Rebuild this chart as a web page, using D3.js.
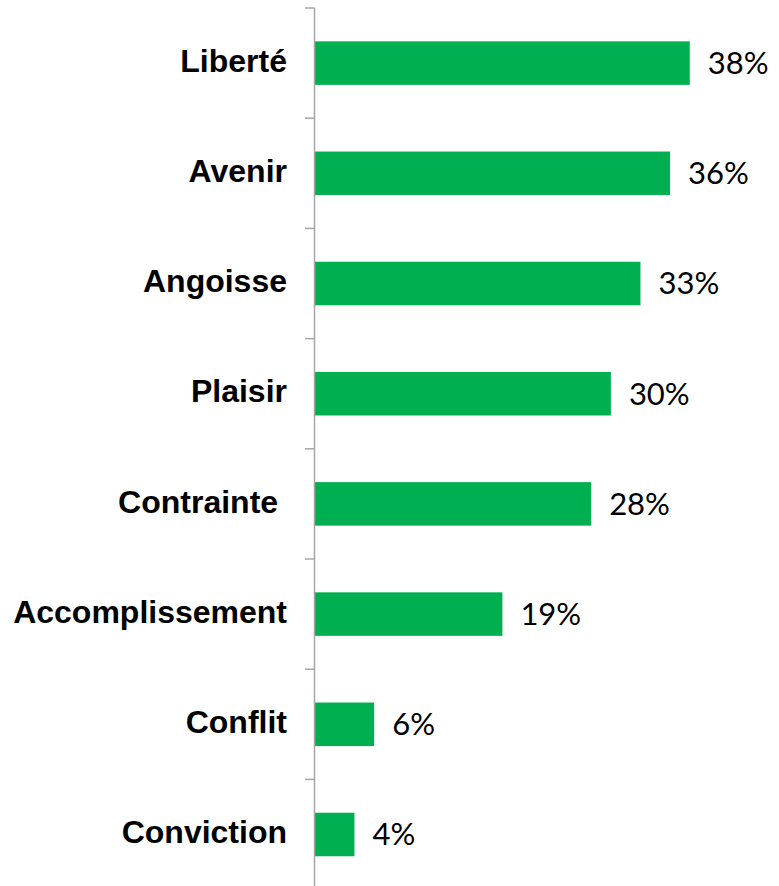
<!DOCTYPE html>
<html>
<head>
<meta charset="utf-8">
<script src="https://cdn.jsdelivr.net/npm/d3@7"></script>
<style>
html, body { margin: 0; padding: 0; background: #fff; }
svg { display: block; }
</style>
</head>
<body>
<svg id="chart" width="779" height="886"></svg>
<script>
const categories = ["Liberté", "Avenir", "Angoisse", "Plaisir", "Contrainte ", "Accomplissement", "Conflit", "Conviction"];
const values = [38, 36, 33, 30, 28, 19, 6, 4];
const valueLabels = ["38%", "36%", "33%", "30%", "28%", "19%", "6%", "4%"];

const svg = d3.select("#chart");
const data = categories.map((c, i) => ({ cat: c, val: values[i], label: valueLabels[i] }));

const x = d3.scaleLinear().domain([0, 40]).range([315, 709.5]);
const y = d3.scaleBand().domain(categories).range([8, 889.6]).paddingInner(0.605).paddingOuter(0.3025);
const step = y.step();
const gap = (step - y.bandwidth()) / 2;

// bars
svg.append("g").selectAll("rect").data(data).join("rect")
  .attr("x", x(0))
  .attr("y", d => y(d.cat))
  .attr("width", d => x(d.val) - x(0))
  .attr("height", y.bandwidth())
  .attr("fill", "#00B050");

// axis line and ticks (between categories)
const axisG = svg.append("g");
axisG.append("line")
  .attr("x1", 314.5).attr("x2", 314.5)
  .attr("y1", y.range()[0]).attr("y2", y.range()[1])
  .attr("stroke", "#a6a6a6").attr("stroke-width", 1.5);
const bounds = categories.map(c => y(c) - gap).concat([y(categories[categories.length - 1]) + y.bandwidth() + gap]);
axisG.selectAll("line.tick").data(bounds).join("line")
  .attr("class", "tick")
  .attr("x1", 305).attr("x2", 314.5)
  .attr("y1", d => d).attr("y2", d => d)
  .attr("stroke", "#a6a6a6").attr("stroke-width", 1.5);

// category labels
svg.append("g").selectAll("text").data(data).join("text")
  .attr("x", 287)
  .attr("y", d => y(d.cat) + y.bandwidth() / 2)
  .attr("dy", "0.27em")
  .attr("text-anchor", "end")
  .attr("xml:space", "preserve")
  .style("white-space", "pre")
  .attr("font-family", "'Liberation Sans', Arial, sans-serif")
  .attr("font-weight", "bold")
  .attr("font-size", 32)
  .attr("fill", "#000")
  .text(d => d.cat);

// value labels
svg.append("g").selectAll("text").data(data).join("text")
  .attr("x", d => x(d.val) + 18)
  .attr("y", d => y(d.cat) + y.bandwidth() / 2)
  .attr("dy", "0.35em")
  .attr("font-family", "Lato, 'Open Sans', sans-serif")
  .attr("font-size", 31)
  .attr("fill", "#000")
  .text(d => d.label);
</script>
</body>
</html>
